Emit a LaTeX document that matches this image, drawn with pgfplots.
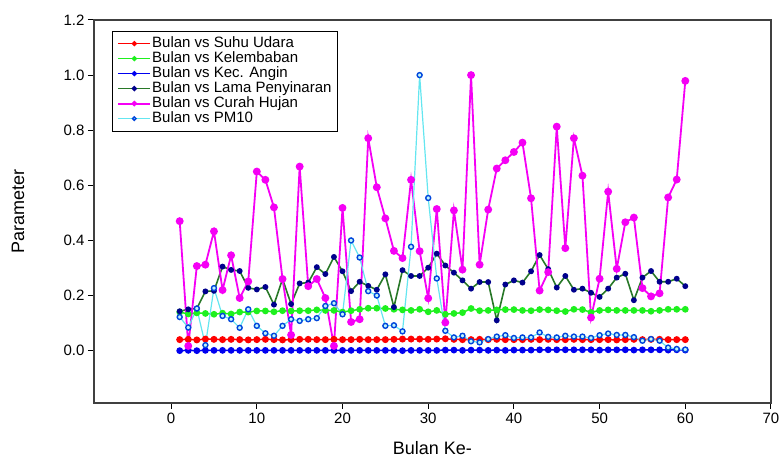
\documentclass[border=0pt]{standalone}
\usepackage{pgfplots}
\pgfplotsset{compat=1.18}
\usepackage{pgfplotstable}
\usepackage{fontspec}
\setmainfont{Liberation Sans}

\definecolor{suhu}{RGB}{255,0,0}
\definecolor{kelem}{RGB}{30,240,30}
\definecolor{angin}{RGB}{0,0,240}
\definecolor{lamaline}{RGB}{40,120,40}
\definecolor{lamamark}{RGB}{0,0,140}
\definecolor{hujan}{RGB}{245,0,245}
\definecolor{pmline}{RGB}{100,230,240}
\definecolor{pmmark}{RGB}{0,70,220}
\definecolor{frame}{RGB}{64,64,64}

% bulan, suhu udara, kelembaban, kec. angin, lama penyinaran, curah hujan, PM10
\pgfplotstableread{
m  suhu  kel   angin lama  hujan pm
1  0.040 0.140 0.000 0.143 0.470 0.122
2  0.041 0.133 0.001 0.150 0.017 0.084
3  0.039 0.137 0.000 0.153 0.307 0.153
4  0.042 0.135 0.001 0.215 0.312 0.020
5  0.041 0.132 0.001 0.217 0.433 0.227
6  0.040 0.136 0.001 0.305 0.220 0.126
7  0.041 0.133 0.001 0.293 0.346 0.114
8  0.040 0.140 0.001 0.289 0.191 0.083
9  0.039 0.140 0.001 0.228 0.251 0.150
10 0.040 0.144 0.001 0.222 0.650 0.090
11 0.041 0.144 0.001 0.231 0.620 0.063
12 0.040 0.141 0.001 0.167 0.520 0.054
13 0.039 0.145 0.001 0.260 0.260 0.090
14 0.040 0.144 0.001 0.169 0.057 0.114
15 0.041 0.145 0.001 0.244 0.668 0.108
16 0.041 0.145 0.001 0.247 0.234 0.114
17 0.040 0.148 0.001 0.303 0.260 0.118
18 0.040 0.146 0.001 0.278 0.191 0.162
19 0.041 0.146 0.001 0.340 0.017 0.172
20 0.040 0.140 0.001 0.288 0.518 0.132
21 0.040 0.145 0.001 0.216 0.104 0.400
22 0.041 0.150 0.001 0.250 0.114 0.338
23 0.040 0.154 0.001 0.235 0.771 0.216
24 0.040 0.154 0.001 0.221 0.593 0.200
25 0.040 0.153 0.001 0.277 0.480 0.090
26 0.041 0.150 0.001 0.158 0.362 0.092
27 0.042 0.148 0.000 0.292 0.336 0.070
28 0.042 0.146 0.001 0.271 0.620 0.377
29 0.042 0.150 0.001 0.271 0.361 1.000
30 0.041 0.141 0.001 0.301 0.190 0.554
31 0.042 0.146 0.001 0.352 0.514 0.262
32 0.043 0.132 0.002 0.309 0.102 0.072
33 0.041 0.135 0.002 0.283 0.509 0.048
34 0.040 0.138 0.001 0.255 0.294 0.054
35 0.040 0.153 0.002 0.225 1.000 0.034
36 0.041 0.145 0.002 0.249 0.312 0.030
37 0.040 0.146 0.001 0.249 0.512 0.042
38 0.041 0.148 0.002 0.110 0.661 0.051
39 0.040 0.149 0.001 0.240 0.691 0.056
40 0.040 0.149 0.002 0.255 0.721 0.046
41 0.040 0.146 0.002 0.247 0.755 0.048
42 0.041 0.145 0.002 0.288 0.553 0.048
43 0.040 0.149 0.003 0.347 0.218 0.066
44 0.041 0.148 0.003 0.296 0.285 0.050
45 0.040 0.145 0.003 0.229 0.813 0.048
46 0.040 0.142 0.003 0.271 0.372 0.054
47 0.041 0.150 0.003 0.221 0.771 0.051
48 0.040 0.149 0.003 0.225 0.635 0.051
49 0.040 0.139 0.003 0.210 0.120 0.046
50 0.040 0.146 0.002 0.195 0.261 0.056
51 0.040 0.148 0.003 0.225 0.577 0.062
52 0.039 0.146 0.003 0.265 0.297 0.057
53 0.040 0.146 0.003 0.279 0.466 0.057
54 0.041 0.146 0.002 0.183 0.483 0.049
55 0.040 0.146 0.003 0.265 0.227 0.036
56 0.041 0.143 0.003 0.289 0.197 0.042
57 0.041 0.146 0.003 0.250 0.208 0.036
58 0.040 0.150 0.002 0.250 0.556 0.011
59 0.040 0.150 0.003 0.261 0.621 0.006
60 0.040 0.150 0.002 0.234 0.979 0.004
}\datatable

\begin{document}
\begin{tikzpicture}
\useasboundingbox (-94pt,-60pt) rectangle (686pt,403pt);
\begin{axis}[
  scale only axis,
  width=677pt, height=383pt,
  xmin=-9, xmax=70, ymin=-0.19, ymax=1.2,
  axis line style={draw=frame, line width=1.5pt},
  xtick={0,10,20,30,40,50,60,70},
  ytick={0,0.2,0.4,0.6,0.8,1.0,1.2},
  tick pos=left, tick align=outside,
  major tick length=6pt,
  tick style={line width=1pt, black},
  /pgf/number format/assume math mode=true,
  yticklabel style={/pgf/number format/.cd, fixed, fixed zerofill, precision=1},
  ticklabel style={font=\fontsize{15}{17}\selectfont},
  xlabel={Bulan Ke-}, ylabel={Parameter},
  xlabel style={at={(axis description cs:0.5,-0.1175)}, anchor=center, font=\fontsize{18}{20}\selectfont},
  ylabel style={at={(axis description cs:-0.1123,0.5)}, anchor=center, font=\fontsize{18}{20}\selectfont},
  legend cell align=left,
  legend style={at={(axis description cs:0.0266,0.972)}, anchor=north west,
    draw=black, line width=0.8pt, inner xsep=5pt, inner ysep=5pt,
    font=\fontsize{15}{15}\selectfont,
    nodes={inner sep=1pt, text height=10.5pt, text depth=2.5pt}},
  legend image code/.code={\draw[mark repeat=2, mark phase=2, mark size=1.8pt] plot coordinates {(0pt,0pt) (16pt,0pt) (32pt,0pt)};},
]
\addplot[color=suhu, line width=1.5pt, mark=*, mark size=2.7pt] table[x=m, y=suhu] {\datatable};
\addlegendentry{Bulan vs Suhu Udara}
\addplot[color=kelem, line width=1.5pt, mark=*, mark size=2.6pt] table[x=m, y=kel] {\datatable};
\addlegendentry{Bulan vs Kelembaban}
\addplot[color=angin, line width=1.5pt, mark=*, mark size=2.6pt] table[x=m, y=angin] {\datatable};
\addlegendentry{Bulan vs Kec. Angin}
\addplot[color=lamaline, line width=1.6pt, mark=*, mark size=2.1pt, mark options={draw=lamamark, fill=lamamark}] table[x=m, y=lama] {\datatable};
\addlegendentry{Bulan vs Lama Penyinaran}
\addplot[color=hujan, line width=1.8pt, mark=*, mark size=3pt] table[x=m, y=hujan] {\datatable};
\addlegendentry{Bulan vs Curah Hujan}
\addplot[color=pmline, line width=1.2pt, mark=*, mark size=2.5pt, mark options={draw=pmmark, fill=pmline!40, line width=1.4pt}] table[x=m, y=pm] {\datatable};
\addlegendentry{Bulan vs PM10}
\end{axis}
\end{tikzpicture}
\end{document}
